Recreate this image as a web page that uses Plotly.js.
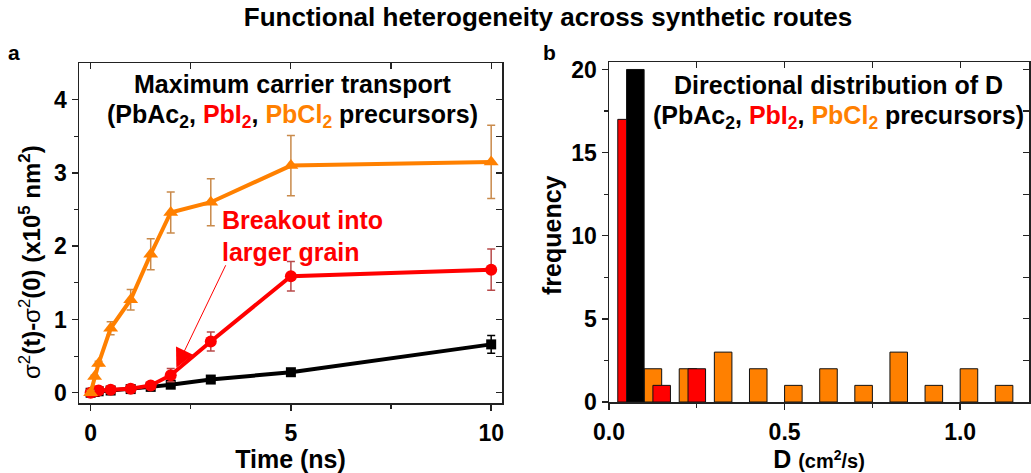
<!DOCTYPE html>
<html>
<head>
<meta charset="utf-8">
<script src="https://cdn.plot.ly/plotly-3.0.1.min.js"></script>
<style>
  html, body { margin: 0; padding: 0; background: #fff; }
  #chart { width: 1031px; height: 473px; }
</style>
</head>
<body>
<div id="chart"></div>
<script>
// ---- Panel a: mean-squared displacement growth vs time ----
const timeNs = [0, 0.1, 0.2, 0.5, 1, 1.5, 2, 3, 5, 10];

const pbac2Msd = [0, 0.01, 0.02, 0.03, 0.05, 0.08, 0.11, 0.18, 0.28, 0.66];
const pbac2Err = [0, 0, 0, 0.01, 0.01, 0.01, 0.02, 0.02, 0.03, 0.12];

const pbi2Msd = [0, 0.02, 0.03, 0.04, 0.055, 0.10, 0.24, 0.70, 1.59, 1.68];
const pbi2Err = [0, 0, 0.01, 0.01, 0.02, 0.04, 0.09, 0.13, 0.20, 0.28];

const pbcl2Msd = [0, 0.22, 0.40, 0.88, 1.27, 1.89, 2.46, 2.60, 3.10, 3.15];
const pbcl2Err = [0.03, 0.02, 0.03, 0.09, 0.14, 0.21, 0.28, 0.32, 0.41, 0.50];

// ---- Panel b: histogram of diffusion coefficients (bin centres, bin width 0.05) ----
const binWidth = 0.05;
const pbcl2D = [0.125, 0.225, 0.325, 0.425, 0.525, 0.625, 0.725, 0.825, 0.925, 1.025, 1.125];
const pbcl2Freq = [2, 2, 3, 2, 1, 2, 1, 3, 1, 2, 1];
const pbi2D = [0.05, 0.15, 0.25];
const pbi2Freq = [17, 1, 2];
const pbac2D = [0.075];
const pbac2Freq = [20];

// ---- styling ----
const FONT = 'Liberation Sans, Arial, Helvetica, sans-serif';
const BLACK = '#000000';
const RED = '#ff0000';
const ORANGE = '#ff8000';
const RED_ERR = '#b84a4a';
const ORANGE_ERR = '#c98a4b';
const FRAME = '#222222';
const W = 1031, H = 473;
const px = v => v / W;           // horizontal pixel -> paper
const py = v => 1 - v / H;       // vertical pixel -> paper

function series(y, err, color, errColor, symbol, size) {
  return {
    type: 'scatter', mode: 'lines+markers',
    x: timeNs, y: y,
    xaxis: 'x', yaxis: 'y',
    line: { color: color, width: 4 },
    marker: { color: color, symbol: symbol, size: size, line: { width: 0 } },
    error_y: { type: 'data', array: err, visible: true, color: errColor, thickness: 1.5, width: 4 },
    showlegend: false, hoverinfo: 'x+y'
  };
}

function bars(x, y, color) {
  return {
    type: 'bar', x: x, y: y, width: binWidth,
    xaxis: 'x2', yaxis: 'y2',
    marker: { color: color, line: { color: '#111', width: 1 } },
    showlegend: false
  };
}

const traces = [
  series(pbac2Msd, pbac2Err, BLACK, BLACK, 'square', 10),
  series(pbi2Msd, pbi2Err, RED, RED_ERR, 'circle', 12),
  series(pbcl2Msd, pbcl2Err, ORANGE, ORANGE_ERR, 'triangle-up', 13),
  bars(pbcl2D, pbcl2Freq, ORANGE),
  bars(pbi2D, pbi2Freq, RED),
  bars(pbac2D, pbac2Freq, BLACK),
  // carriers for the inward-facing mirror ticks on top/right edges
  { type: 'scatter', x: [], y: [], xaxis: 'x3', yaxis: 'y', showlegend: false, hoverinfo: 'skip' },
  { type: 'scatter', x: [], y: [], xaxis: 'x', yaxis: 'y3', showlegend: false, hoverinfo: 'skip' },
  { type: 'scatter', x: [], y: [], xaxis: 'x4', yaxis: 'y2', showlegend: false, hoverinfo: 'skip' },
  { type: 'scatter', x: [], y: [], xaxis: 'x2', yaxis: 'y4', showlegend: false, hoverinfo: 'skip' }
];

const tickFont = { family: FONT, size: 23, color: '#000', weight: 'bold' };
const domXa = [px(79), px(502)];
const domYa = [1 - 403 / H, 1 - 63 / H];
const domXb = [px(609), px(1029)];
const domYb = [1 - 402 / H, 1 - 62 / H];
const rangeXa = [-0.29, 10.27], rangeYa = [-0.14, 4.5];
const rangeXb = [0, 1.196], rangeYb = [0, 20.45];

function baseAxis(extra) {
  return Object.assign({
    showgrid: false, zeroline: false,
    showline: true, linecolor: FRAME, linewidth: 1.5, mirror: true,
    ticks: 'outside', ticklen: 6, tickwidth: 1.5, tickcolor: FRAME,
    tickfont: tickFont, fixedrange: true
  }, extra);
}
function mirrorAxis(extra) {
  return Object.assign({
    showgrid: false, zeroline: false, showline: false,
    ticks: 'inside', ticklen: 6, tickwidth: 1.2, tickcolor: FRAME,
    showticklabels: false, fixedrange: true
  }, extra);
}

const layout = {
  width: W, height: H,
  margin: { l: 0, r: 0, t: 0, b: 0 },
  paper_bgcolor: '#fff', plot_bgcolor: '#fff',
  barmode: 'overlay', bargap: 0,
  font: { family: FONT, color: '#000' },
  title: {
    text: 'Functional heterogeneity across synthetic routes',
    font: { family: FONT, size: 26, weight: 'bold', color: '#000' },
    x: px(548), xanchor: 'center', y: py(17), yanchor: 'middle'
  },
  xaxis: baseAxis({
    domain: domXa, anchor: 'y', range: rangeXa, tickvals: [0, 5, 10], ticklabelstandoff: 3,
    minor: { tickvals: [2.5, 7.5], ticks: 'outside', ticklen: 4, tickwidth: 1.2, tickcolor: FRAME },
    title: { text: 'Time (ns)', font: { family: FONT, size: 25, weight: 'bold' }, standoff: 6 }
  }),
  yaxis: baseAxis({
    domain: domYa, anchor: 'x', range: rangeYa, tickvals: [0, 1, 2, 3, 4],
    minor: { tickvals: [0.5, 1.5, 2.5, 3.5], ticks: 'outside', ticklen: 4, tickwidth: 1.2, tickcolor: FRAME }
  }),
  xaxis3: mirrorAxis({ overlaying: 'x', side: 'top', anchor: 'y', range: rangeXa, tickvals: [0, 2.5, 5, 7.5, 10] }),
  yaxis3: mirrorAxis({ overlaying: 'y', side: 'right', anchor: 'x', range: rangeYa, tickvals: [0, 0.5, 1, 1.5, 2, 2.5, 3, 3.5, 4] }),
  xaxis2: baseAxis({
    domain: domXb, anchor: 'y2', range: rangeXb, tickvals: [0, 0.5, 1.0], ticktext: ['0.0', '0.5', '1.0'], ticklabelstandoff: 3,
    minor: { tickvals: [0.25, 0.75], ticks: 'outside', ticklen: 4, tickwidth: 1.2, tickcolor: FRAME },
    title: { text: 'D <span style="font-size:20px">(cm<sup>2</sup>/s)</span>', font: { family: FONT, size: 25, weight: 'bold' }, standoff: 6 }
  }),
  yaxis2: baseAxis({
    domain: domYb, anchor: 'x2', range: rangeYb, tickvals: [0, 5, 10, 15, 20],
    minor: { tickvals: [2.5, 7.5, 12.5, 17.5], ticks: 'outside', ticklen: 4, tickwidth: 1.2, tickcolor: FRAME }
  }),
  xaxis4: mirrorAxis({ overlaying: 'x2', side: 'top', anchor: 'y2', range: rangeXb, tickvals: [0, 0.25, 0.5, 0.75, 1.0] }),
  yaxis4: mirrorAxis({ overlaying: 'y2', side: 'right', anchor: 'x2', range: rangeYb, tickvals: [0, 2.5, 5, 7.5, 10, 12.5, 15, 17.5, 20] }),
  annotations: [
    { text: '<b>a</b>', xref: 'paper', yref: 'paper', x: px(14), y: py(52), xanchor: 'center', yanchor: 'middle',
      showarrow: false, font: { family: FONT, size: 21 } },
    { text: '<b>b</b>', xref: 'paper', yref: 'paper', x: px(549), y: py(52), xanchor: 'center', yanchor: 'middle',
      showarrow: false, font: { family: FONT, size: 21 } },
    // y-axis titles
    { text: 'σ<sup>2</sup><b>(t)-</b>σ<sup>2</sup><b>(0) (x10<sup>5</sup> nm<sup>2</sup>)</b>', textangle: -90,
      xref: 'paper', yref: 'paper', x: px(30), y: py(262), xanchor: 'center', yanchor: 'middle',
      showarrow: false, font: { family: FONT, size: 24 } },
    { text: '<b>frequency</b>', textangle: -90,
      xref: 'paper', yref: 'paper', x: px(552), y: py(235), xanchor: 'center', yanchor: 'middle',
      showarrow: false, font: { family: FONT, size: 25 } },
    // panel a caption
    { text: '<b>Maximum carrier transport</b>', xref: 'paper', yref: 'paper', x: px(292), y: py(84),
      xanchor: 'center', yanchor: 'middle', showarrow: false, font: { family: FONT, size: 25 } },
    { text: '<b>(PbAc<sub>2</sub>, <span style="color:#ff0000">PbI<sub>2</sub></span>, <span style="color:#ff8000">PbCl<sub>2</sub></span> precursors)</b>',
      xref: 'paper', yref: 'paper', x: px(292), y: py(116),
      xanchor: 'center', yanchor: 'middle', showarrow: false, font: { family: FONT, size: 25 } },
    // panel b caption
    { text: '<b>Directional distribution of D</b>', xref: 'paper', yref: 'paper', x: px(838), y: py(85),
      xanchor: 'center', yanchor: 'middle', showarrow: false, font: { family: FONT, size: 25 } },
    { text: '<b>(PbAc<sub>2</sub>, <span style="color:#ff0000">PbI<sub>2</sub></span>, <span style="color:#ff8000">PbCl<sub>2</sub></span> precursors)</b>',
      xref: 'paper', yref: 'paper', x: px(838), y: py(117),
      xanchor: 'center', yanchor: 'middle', showarrow: false, font: { family: FONT, size: 25 } },
    // breakout callout
    { text: '<b>Breakout into</b>', xref: 'paper', yref: 'paper', x: px(220), y: py(220),
      xanchor: 'left', yanchor: 'middle', showarrow: false, font: { family: FONT, size: 25, color: RED } },
    { text: '<b>larger grain</b>', xref: 'paper', yref: 'paper', x: px(220), y: py(252),
      xanchor: 'left', yanchor: 'middle', showarrow: false, font: { family: FONT, size: 25, color: RED } },
    { text: '', xref: 'x', yref: 'y', x: 2.14, y: 0.34, axref: 'x', ayref: 'y', ax: 3.39, ay: 1.76,
      showarrow: true, arrowhead: 2, arrowsize: 3.8, arrowwidth: 1, arrowcolor: RED, standoff: 0 }
  ]
};

Plotly.newPlot('chart', traces, layout, { displayModeBar: false, staticPlot: true });
</script>
</body>
</html>
